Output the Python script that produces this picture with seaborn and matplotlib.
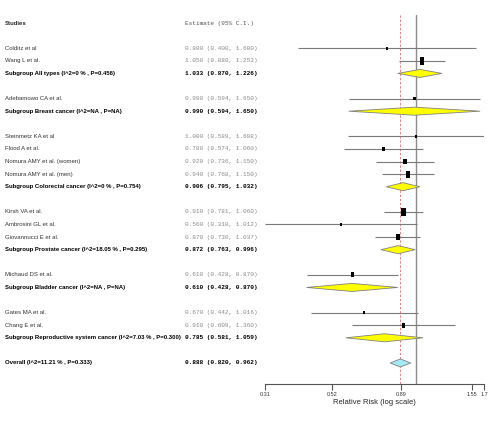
import numpy as np
import pandas as pd
import seaborn as sns
import matplotlib
matplotlib.use("Agg")
import matplotlib.pyplot as plt
from matplotlib.patches import Polygon
from matplotlib.transforms import blended_transform_factory

# forest plot data (row = line number from the top)
labels = ["Colditz et al", "Wang L et al.", "Subgroup All types (I^2=0 % , P=0.456)",
          "Adebamowo CA et al.", "Subgroup Breast cancer (I^2=NA , P=NA)",
          "Steinmetz KA et al", "Flood A et al.", "Nomura AMY et al. (women)",
          "Nomura AMY et al. (men)", "Subgroup Colorectal cancer (I^2=0 % , P=0.754)",
          "Kirsh VA et al.", "Ambrosini GL et al.", "Giovannucci E et al.",
          "Subgroup Prostate cancer (I^2=18.05 % , P=0.295)",
          "Michaud DS et al.", "Subgroup Bladder cancer (I^2=NA , P=NA)",
          "Gates MA et al.", "Chang E et al.",
          "Subgroup Reproductive system cancer (I^2=7.03 % , P=0.300)",
          "Overall (I^2=11.21 % , P=0.333)"]
rows = [2, 3, 4, 6, 7, 9, 10, 11, 12, 13, 15, 16, 17, 18, 20, 21, 23, 24, 25, 27]
kind = ["study", "study", "sub", "study", "sub", "study", "study", "study", "study", "sub",
        "study", "study", "study", "sub", "study", "sub", "study", "study", "sub", "overall"]
est = [0.800, 1.050, 1.033, 0.990, 0.990, 1.000, 0.780, 0.920, 0.940, 0.906,
       0.910, 0.560, 0.870, 0.872, 0.610, 0.610, 0.670, 0.910, 0.785, 0.888]
lo = [0.400, 0.880, 0.870, 0.594, 0.594, 0.589, 0.574, 0.736, 0.768, 0.795,
      0.781, 0.310, 0.730, 0.763, 0.428, 0.428, 0.442, 0.609, 0.581, 0.820]
hi = [1.600, 1.253, 1.226, 1.650, 1.650, 1.698, 1.060, 1.150, 1.150, 1.032,
      1.060, 1.012, 1.037, 0.996, 0.870, 0.870, 1.016, 1.360, 1.059, 0.962]
# relative box size for studies
box = [2, 6, None, 2, None, 2, 3, 4, 5, None, 6, 2, 5, None, 3, None, 2, 3, None, None]

ticks = [0.31, 0.52, 0.89, 1.55, 1.7]
tick_labels = ["0.31", "0.52", "0.89", "1.55", "1.7"]

df = pd.DataFrame({"label": labels, "row": rows, "kind": kind, "est": est, "lo": lo, "hi": hi, "box": box})
studies = df[df["kind"] == "study"].copy()

sans = "Liberation Sans"
mono = "Liberation Mono"

sns.set_style("white")
W, H = 490, 423
fig = plt.figure(figsize=(W / 100, H / 100), dpi=100)
ax = fig.add_axes([265 / W, 1 - 384 / H, (484 - 265) / W, (384 - 15) / H])
ax.set_xscale("log")
ax.set_xlim(0.31, 1.7)
ax.set_ylim(28.67, -0.64)

# reference lines
ax.axvline(1.0, color="#8c8c8c", lw=1.0, zorder=1)
ax.axvline(0.888, color="#e07070", lw=0.6, ls=(0, (3, 2)), zorder=1)

# CI lines for studies
ax.hlines(studies["row"], studies["lo"], studies["hi"], color="#7a7a7a", lw=0.8, zorder=2)

# boxes
rect = [(-0.65, -1), (0.65, -1), (0.65, 1), (-0.65, 1)]
sns.scatterplot(data=studies, x="est", y="row", size="box", sizes=(6, 30), marker=rect,
                color="black", edgecolor="black", linewidth=0, legend=False, ax=ax, zorder=3)

# diamonds for pooled estimates
for _, r in df[df["kind"] != "study"].iterrows():
    h = 0.32
    pts = [(r["lo"], r["row"]), (r["est"], r["row"] - h), (r["hi"], r["row"]), (r["est"], r["row"] + h)]
    fc = "#a6e8f5" if r["kind"] == "overall" else "#ffff00"
    ax.add_patch(Polygon(pts, closed=True, facecolor=fc, edgecolor="#808080", lw=0.6, zorder=3))

# axis styling
for s in ["top", "right", "left"]:
    ax.spines[s].set_visible(False)
ax.spines["bottom"].set_color("#555555")
ax.spines["bottom"].set_linewidth(0.8)
ax.set_yticks([])
ax.set_ylabel("")
ax.set_xticks(ticks)
ax.set_xticklabels(tick_labels, fontsize=4, fontfamily=sans, color="#333333")
ax.xaxis.set_minor_locator(plt.NullLocator())
ax.tick_params(axis="x", direction="out", length=4, width=0.8, color="#555555", pad=2, bottom=True)
ax.set_xlabel("Relative Risk (log scale)", fontsize=5.5, fontfamily=sans, labelpad=1)

# pick a label size so the longest bold label ends before the estimate column
renderer = fig.canvas.get_renderer()
longest = max(labels, key=len)
fs = 6.0
while fs > 3:
    t = fig.text(0, 0, longest, fontsize=fs, fontfamily=sans, fontweight="bold")
    w = t.get_window_extent(renderer).width
    t.remove()
    if w <= 176:
        break
    fs -= 0.1

# text columns
tr = blended_transform_factory(fig.transFigure, ax.transData)
ax.text(5 / W, 0, "Studies", transform=tr, fontsize=fs, fontfamily=sans,
        fontweight="bold", va="center", ha="left")
ax.text(185 / W, 0, "Estimate (95% C.I.)", transform=tr, fontsize=4.4, fontfamily=mono,
        color="#555555", va="center", ha="left")
for _, r in df.iterrows():
    bold = r["kind"] != "study"
    ax.text(5 / W, r["row"], r["label"], transform=tr, fontsize=fs, fontfamily=sans,
            fontweight="bold" if bold else "normal", color="black" if bold else "#333333",
            va="center", ha="left")
    txt = f"{r['est']:.3f} ({r['lo']:.3f}, {r['hi']:.3f})"
    ax.text(185 / W, r["row"], txt, transform=tr, fontsize=4.4, fontfamily=mono,
            fontweight="bold" if bold else "normal", color="black" if bold else "#8a8a8a",
            va="center", ha="left")

fig.savefig("out.png", dpi=100, facecolor="white")
